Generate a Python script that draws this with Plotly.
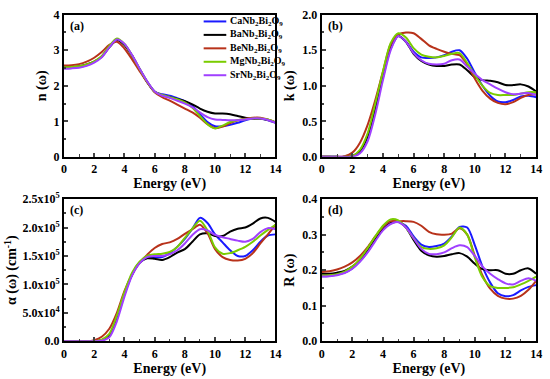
import numpy as np
import plotly.graph_objects as go

energy = [i * 0.5 for i in range(29)]

names = ["CaNb<sub>2</sub>Bi<sub>2</sub>O<sub>9</sub>",
         "BaNb<sub>2</sub>Bi<sub>2</sub>O<sub>9</sub>",
         "BeNb<sub>2</sub>Bi<sub>2</sub>O<sub>9</sub>",
         "MgNb<sub>2</sub>Bi<sub>2</sub>O<sub>9</sub>",
         "SrNb<sub>2</sub>Bi<sub>2</sub>O<sub>9</sub>"]
colors = ["#1a1aff", "#000000", "#b8321a", "#7acc00", "#a040ff"]

# (a) refractive index n
n_ca = [2.50, 2.51, 2.53, 2.58, 2.67, 2.82, 3.10, 3.30, 3.17, 2.86, 2.48, 2.12, 1.84, 1.76, 1.72, 1.65, 1.57, 1.43, 1.20, 0.98, 0.86, 0.86, 0.90, 0.96, 1.03, 1.08, 1.08, 1.03, 0.96]
n_ba = [2.52, 2.53, 2.55, 2.60, 2.68, 2.82, 3.08, 3.28, 3.15, 2.85, 2.47, 2.11, 1.83, 1.73, 1.68, 1.63, 1.57, 1.48, 1.36, 1.27, 1.22, 1.22, 1.20, 1.15, 1.10, 1.07, 1.07, 1.04, 0.97]
n_be = [2.57, 2.58, 2.61, 2.68, 2.79, 2.95, 3.15, 3.24, 3.05, 2.75, 2.42, 2.10, 1.82, 1.68, 1.58, 1.47, 1.36, 1.25, 1.10, 0.92, 0.81, 0.85, 0.95, 1.03, 1.07, 1.10, 1.10, 1.05, 0.97]
n_mg = [2.52, 2.53, 2.55, 2.60, 2.69, 2.84, 3.12, 3.33, 3.18, 2.86, 2.48, 2.12, 1.84, 1.74, 1.68, 1.62, 1.53, 1.38, 1.15, 0.92, 0.80, 0.88, 0.98, 1.03, 1.06, 1.08, 1.08, 1.05, 0.97]
n_sr = [2.48, 2.49, 2.51, 2.56, 2.65, 2.80, 3.08, 3.30, 3.18, 2.87, 2.49, 2.13, 1.84, 1.72, 1.66, 1.58, 1.50, 1.40, 1.25, 1.12, 1.05, 1.04, 1.03, 1.03, 1.05, 1.08, 1.08, 1.04, 0.96]

# (b) extinction coefficient k
k_ca = [0, 0, 0, 0, 0.01, 0.08, 0.28, 0.68, 1.12, 1.52, 1.70, 1.62, 1.48, 1.40, 1.39, 1.40, 1.43, 1.48, 1.50, 1.38, 1.18, 1.00, 0.86, 0.78, 0.77, 0.80, 0.85, 0.86, 0.84]
k_ba = [0, 0, 0, 0, 0.01, 0.08, 0.30, 0.70, 1.15, 1.53, 1.70, 1.62, 1.45, 1.35, 1.30, 1.28, 1.28, 1.30, 1.30, 1.22, 1.12, 1.08, 1.07, 1.05, 1.01, 1.01, 1.02, 0.99, 0.92]
k_be = [0, 0, 0, 0.01, 0.06, 0.20, 0.45, 0.80, 1.20, 1.58, 1.72, 1.75, 1.74, 1.66, 1.57, 1.52, 1.48, 1.45, 1.43, 1.30, 1.10, 0.93, 0.82, 0.76, 0.74, 0.77, 0.83, 0.87, 0.88]
k_mg = [0, 0, 0, 0, 0.01, 0.10, 0.33, 0.75, 1.20, 1.60, 1.74, 1.68, 1.53, 1.44, 1.41, 1.40, 1.42, 1.45, 1.46, 1.32, 1.15, 1.00, 0.90, 0.87, 0.87, 0.87, 0.89, 0.91, 0.91]
k_sr = [0, 0, 0, 0, 0.0, 0.05, 0.22, 0.60, 1.08, 1.50, 1.70, 1.62, 1.46, 1.36, 1.31, 1.30, 1.31, 1.36, 1.37, 1.27, 1.17, 1.08, 1.02, 0.96, 0.91, 0.88, 0.89, 0.90, 0.87]

# (c) absorption coefficient alpha (units of 1e5 cm^-1)
a_ca = [0, 0, 0, 0, 0, 0.02, 0.10, 0.40, 0.82, 1.17, 1.38, 1.47, 1.48, 1.48, 1.55, 1.66, 1.80, 1.98, 2.17, 2.08, 1.88, 1.74, 1.60, 1.50, 1.50, 1.60, 1.75, 1.86, 1.88]
a_ba = [0, 0, 0, 0, 0, 0.02, 0.10, 0.42, 0.84, 1.17, 1.38, 1.46, 1.45, 1.43, 1.48, 1.56, 1.62, 1.75, 1.88, 1.90, 1.85, 1.85, 1.93, 1.98, 2.00, 2.07, 2.16, 2.17, 2.10]
a_be = [0, 0, 0, 0, 0.02, 0.08, 0.22, 0.50, 0.88, 1.17, 1.38, 1.52, 1.64, 1.71, 1.74, 1.80, 1.89, 1.97, 2.05, 1.90, 1.62, 1.48, 1.43, 1.42, 1.45, 1.55, 1.72, 1.88, 2.05]
a_mg = [0, 0, 0, 0, 0, 0.03, 0.13, 0.45, 0.86, 1.20, 1.40, 1.50, 1.53, 1.54, 1.57, 1.66, 1.82, 1.98, 2.12, 1.95, 1.65, 1.54, 1.55, 1.60, 1.66, 1.75, 1.86, 1.96, 2.05]
a_sr = [0, 0, 0, 0, 0, 0.01, 0.07, 0.35, 0.78, 1.15, 1.37, 1.48, 1.50, 1.50, 1.53, 1.60, 1.72, 1.87, 1.97, 1.95, 1.87, 1.83, 1.80, 1.77, 1.75, 1.80, 1.92, 1.99, 1.97]

# (d) reflectivity R
r_ca = [0.183, 0.184, 0.187, 0.193, 0.205, 0.225, 0.252, 0.285, 0.315, 0.333, 0.336, 0.325, 0.295, 0.272, 0.265, 0.268, 0.275, 0.295, 0.322, 0.320, 0.270, 0.210, 0.165, 0.135, 0.127, 0.130, 0.143, 0.153, 0.158]
r_ba = [0.190, 0.190, 0.193, 0.198, 0.210, 0.228, 0.255, 0.287, 0.315, 0.332, 0.336, 0.320, 0.285, 0.255, 0.242, 0.238, 0.240, 0.245, 0.248, 0.238, 0.218, 0.203, 0.200, 0.200, 0.190, 0.190, 0.200, 0.205, 0.190]
r_be = [0.195, 0.197, 0.202, 0.210, 0.222, 0.240, 0.265, 0.295, 0.322, 0.338, 0.338, 0.338, 0.336, 0.325, 0.308, 0.301, 0.300, 0.303, 0.318, 0.300, 0.240, 0.185, 0.148, 0.128, 0.120, 0.120, 0.128, 0.145, 0.170]
r_mg = [0.185, 0.186, 0.189, 0.196, 0.210, 0.232, 0.262, 0.295, 0.325, 0.343, 0.340, 0.320, 0.290, 0.265, 0.260, 0.262, 0.270, 0.293, 0.320, 0.300, 0.235, 0.180, 0.155, 0.150, 0.150, 0.152, 0.160, 0.170, 0.182]
r_sr = [0.182, 0.183, 0.186, 0.192, 0.204, 0.224, 0.250, 0.282, 0.312, 0.330, 0.335, 0.320, 0.290, 0.260, 0.246, 0.245, 0.250, 0.262, 0.270, 0.265, 0.240, 0.210, 0.190, 0.175, 0.163, 0.160, 0.170, 0.177, 0.170]

panels = [
    ([n_ca, n_ba, n_be, n_mg, n_sr], 1.0),
    ([k_ca, k_ba, k_be, k_mg, k_sr], 1.0),
    ([a_ca, a_ba, a_be, a_mg, a_sr], 1e5),
    ([r_ca, r_ba, r_be, r_mg, r_sr], 1.0),
]

W, H = 550, 379
def dx(a, b):
    return [a / W, b / W]
def dy(top, bot):
    return [(H - bot) / H, (H - top) / H]

fig = go.Figure()
axes = [("x", "y"), ("x2", "y2"), ("x3", "y3"), ("x4", "y4")]
for p, (series, scale) in enumerate(panels):
    xa, ya = axes[p]
    for s, (vals, nm, col) in enumerate(zip(series, names, colors)):
        fig.add_trace(go.Scatter(
            x=energy, y=[v * scale for v in vals], mode="lines",
            line=dict(color=col, width=2, shape="spline", smoothing=0.8),
            name=nm, showlegend=False, xaxis=xa, yaxis=ya))

font = dict(family="Liberation Serif", size=12, color="black", weight="bold")
common_x = dict(range=[0, 14], tickvals=[0, 2, 4, 6, 8, 10, 12, 14], ticks="inside",
                ticklen=4, tickwidth=1.5, showline=True, linewidth=2, linecolor="black",
                mirror=True, showgrid=False, zeroline=False,
                minor=dict(dtick=1, ticks="inside", ticklen=2.5, tickwidth=1),
                title=dict(text="Energy (eV)", font=dict(size=14), standoff=2),
                tickfont=dict(size=12))
common_y = dict(ticks="inside", ticklen=4, tickwidth=1.5, showline=True, linewidth=2,
                linecolor="black", mirror=True, showgrid=False, zeroline=False,
                tickfont=dict(size=12))

a_ticks = [0, 0.5e5, 1.0e5, 1.5e5, 2.0e5, 2.5e5]
a_text = ["0.0", "5.0x10<sup>4</sup>", "1.0x10<sup>5</sup>", "1.5x10<sup>5</sup>",
          "2.0x10<sup>5</sup>", "2.5x10<sup>5</sup>"]

fig.update_layout(
    width=W, height=H, margin=dict(l=0, r=0, t=0, b=0),
    paper_bgcolor="white", plot_bgcolor="white", font=font,
    xaxis=dict(common_x, domain=dx(62, 277), anchor="y"),
    yaxis=dict(common_y, domain=dy(7, 155), range=[0, 4], dtick=1,
               minor=dict(dtick=0.5, ticks="inside", ticklen=2.5),
               title=dict(text="n (ω)", font=dict(size=14), standoff=4), anchor="x"),
    xaxis2=dict(common_x, domain=dx(324, 542), anchor="y2"),
    yaxis2=dict(common_y, domain=dy(7, 155), range=[0, 2], dtick=0.5, tickformat=".1f",
                minor=dict(dtick=0.25, ticks="inside", ticklen=2.5),
                title=dict(text="k (ω)", font=dict(size=14), standoff=4), anchor="x2"),
    xaxis3=dict(common_x, domain=dx(62, 277), anchor="y3"),
    yaxis3=dict(common_y, domain=dy(199, 347), range=[0, 2.5e5], tickvals=a_ticks,
                ticktext=a_text,
                minor=dict(tickvals=[0.25e5, 0.75e5, 1.25e5, 1.75e5, 2.25e5], ticks="inside", ticklen=2.5),
                title=dict(text="α (ω) (cm<sup>-1</sup>)", font=dict(size=14), standoff=2), anchor="x3"),
    xaxis4=dict(common_x, domain=dx(324, 542), anchor="y4"),
    yaxis4=dict(common_y, domain=dy(199, 347), range=[0, 0.4], dtick=0.1, tickformat=".1f",
                minor=dict(dtick=0.05, ticks="inside", ticklen=2.5),
                title=dict(text="R (ω)", font=dict(size=14), standoff=4), anchor="x4"),
    showlegend=False,
)

# compact legend inside panel (a): short coloured line + label per series
leg_x0, leg_x1, leg_tx, leg_y0, leg_dy = 204, 227, 229, 14, 14
for i, (nm, col) in enumerate(zip(names, colors)):
    yy = 1 - (leg_y0 + i * leg_dy) / H
    fig.add_shape(type="line", xref="paper", yref="paper",
                  x0=leg_x0 / W, x1=leg_x1 / W, y0=yy, y1=yy,
                  line=dict(color=col, width=2))
    fig.add_annotation(text=nm, x=leg_tx / W, y=yy, xref="paper", yref="paper",
                       xanchor="left", yanchor="middle", showarrow=False,
                       font=dict(size=10, family="Liberation Serif", weight="bold"))

labels = [("(a)", 66, 9), ("(b)", 328, 9), ("(c)", 66, 201), ("(d)", 328, 201)]
for txt, px, py in labels:
    fig.add_annotation(text=txt, x=px / W, y=1 - py / H, xref="paper", yref="paper",
                       xanchor="left", yanchor="top", showarrow=False,
                       font=dict(size=12, family="Liberation Serif", weight="bold"))

fig.write_html("out.html", config={"displayModeBar": False})

# remove the default browser page margin so the figure sits at the window origin
with open("out.html", "r", encoding="utf-8") as f:
    html = f.read()
html = html.replace("<head>", "<head><style>html,body{margin:0;padding:0;overflow:hidden;}</style>", 1)
with open("out.html", "w", encoding="utf-8") as f:
    f.write(html)
